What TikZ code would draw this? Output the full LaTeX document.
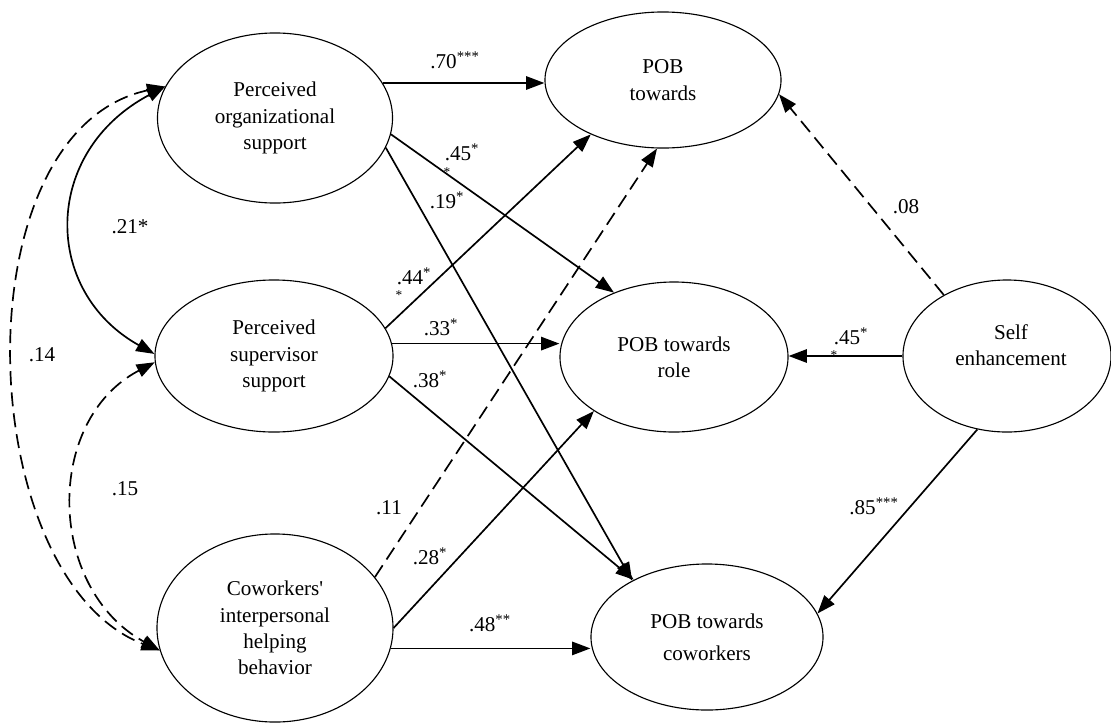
\documentclass[tikz,border=0pt]{standalone}
\usepackage{fontspec}
\setmainfont{Liberation Serif}
\usetikzlibrary{arrows.meta,shapes.geometric}

\newcommand{\lab}{\fontsize{15}{18.8}\selectfont}
\newcommand{\tinystar}{\fontsize{9.5}{9.5}\selectfont}

\begin{document}
\begin{tikzpicture}[
            x=0.025cm, y=-0.025cm,
            >={Triangle[length=13pt,width=9.5pt]},
            latent/.style={ellipse, draw, line width=0.8pt, align=center, font=\lab, inner sep=0pt},
            effect/.style={line width=1.2pt, ->},
            weak effect/.style={line width=1.2pt, ->, dash pattern=on 10pt off 5pt},
            covar/.style={line width=1.2pt, <->},
            weak covar/.style={line width=1.2pt, <->, dash pattern=on 10pt off 5pt},
            coef/.style={font=\lab, inner sep=1pt},
            small star/.style={font=\tinystar, inner sep=0pt},
            every node/.style={color=black}
            ]

            \useasboundingbox (0,0) rectangle (1111,724);

            % predictors
            \node[latent, minimum width=5.875cm, minimum height=4.25cm] (pos) at (275,118) {Perceived\\organizational\\support};
            \node[latent, minimum width=5.95cm, minimum height=3.8cm] (pss) at (274,356) {Perceived\\supervisor\\support};
            \node[latent, minimum width=5.9cm, minimum height=4.7cm] (cihb) at (275,628) {Coworkers\textquotesingle\\interpersonal\\helping\\behavior};

            % outcomes
            \node[latent, minimum width=5.9cm, minimum height=3.4cm] (pobt) at (663,80) {POB\\towards};
            \node[latent, minimum width=5.7cm, minimum height=3.75cm] (pobr) at (674,357) {POB towards\\role};
            \node[latent, minimum width=5.8cm, minimum height=3.65cm] (pobc) at (707,637) {POB towards\\[0.15cm]coworkers};

            % moderator
            \node[latent, minimum width=5.2cm, minimum height=3.8cm] (se) at (1007,356) {};
            \node[font=\lab, align=center] (setext) at (1011,345) {Self\\enhancement};

            % paths from predictors
            \draw[effect] (pos.18) -- (pos.18 -| pobt.west);
            \draw[effect] (pos.352) -- (pobr.133);
            \draw[effect] (pos.345) -- (pobc.143);
            \draw[effect] (pss.14) -- (pobt.217);
            \draw[effect] (pss.6) -- (pss.6 -| pobr.west);
            \draw[effect] (pss.350) -- (pobc.142);
            \draw[weak effect] (cihb.27) -- (pobt.265);
            \draw[effect] (cihb.0) -- (pobr.214);
            \draw[effect] (cihb.350) -- (cihb.350 -| pobc.west);

            % paths from self enhancement
            \draw[weak effect] (se.136) -- (pobt.353);
            \draw[effect] (se.west) -- (se.west -| pobr.east);
            \draw[effect] (se.248) -- (pobc.12);

            % correlations
            \draw[covar] (pos.164) .. controls +(-123,65) and +(-113,-63) .. (pss.179);
            \draw[weak covar] (pos.164) .. controls +(-208,45) and +(-187,-72) .. (cihb.191);
            \draw[weak covar] (pss.183) .. controls +(-111,58) and +(-113,-62) .. (cihb.191);

            % coefficients
            \node[coef] (c70) at (455,60) {.70\textsuperscript{***}};
            \node[coef] (c45a) at (462,152) {.45\textsuperscript{*}};
            \node[small star] (s45a) at (447,172) {*};
            \node[coef] (c19) at (447,200) {.19\textsuperscript{*}};
            \node[coef] (c44) at (414,276) {.44\textsuperscript{*}};
            \node[small star] (s44) at (399,295) {*};
            \node[coef] (c33) at (441,327) {.33\textsuperscript{*}};
            \node[coef] (c38) at (430,379) {.38\textsuperscript{*}};
            \node[coef] (c11) at (389,508) {.11};
            \node[coef] (c28) at (430,556) {.28\textsuperscript{*}};
            \node[coef] (c48) at (490,623) {.48\textsuperscript{**}};
            \node[coef] (c08) at (906,207) {.08};
            \node[coef] (c45b) at (851,336) {.45\textsuperscript{*}};
            \node[small star] (s45b) at (834,355) {*};
            \node[coef] (c85) at (874,506) {.85\textsuperscript{***}};
            \node[coef] (c21) at (130,227) {.21*};
            \node[coef] (c14) at (42,355) {.14};
            \node[coef] (c15) at (125,489) {.15};

\end{tikzpicture}
\end{document}
